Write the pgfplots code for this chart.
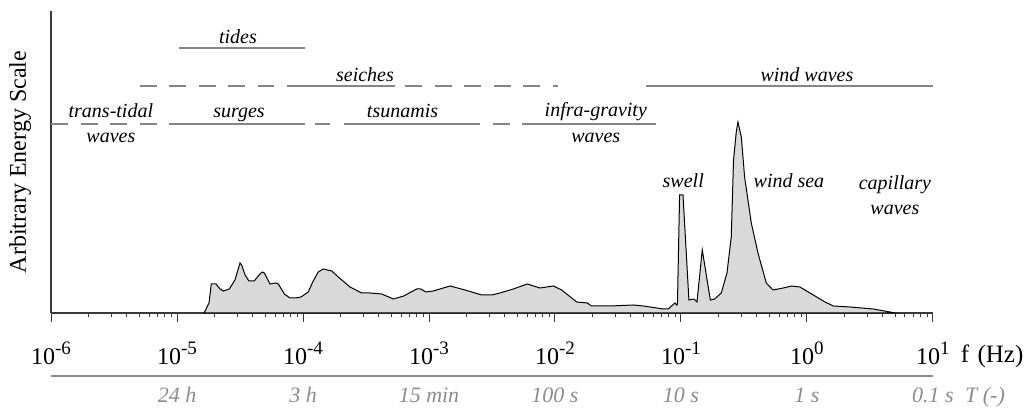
\documentclass[border=0pt]{standalone}
\usepackage{fontspec}
\setmainfont{Liberation Serif}
\usepackage{pgfplots}
\pgfplotsset{compat=1.18}
\definecolor{fillgray}{HTML}{D9D9D9}
\definecolor{catgray}{HTML}{858585}
\definecolor{pergray}{HTML}{8C8C8C}
\definecolor{axgray}{HTML}{3A3A3A}

\newcommand\dec[1]{10\raisebox{5pt}{\fontsize{9.5}{10}\selectfont #1}}

% spectrum: log10(f) and arbitrary energy
\pgfplotstableread{
lf     E
-4.785 0
-4.746 10
-4.728 29
-4.690 29
-4.659 24
-4.633 22
-4.585 24
-4.540 33
-4.500 50
-4.487 48
-4.460 38
-4.429 32
-4.387 32
-4.349 38
-4.323 41
-4.307 40
-4.262 29
-4.214 30
-4.196 29
-4.148 19
-4.103 15
-4.058 15
-4.016 16
-3.958 21
-3.923 31
-3.879 41
-3.839 44
-3.772 42
-3.720 36
-3.627 26
-3.534 20
-3.468 20
-3.375 19
-3.283 14
-3.200 17
-3.098 24
-3.066 24
-3.024 21
-2.966 22
-2.833 27
-2.714 23
-2.582 18
-2.502 18
-2.437 20
-2.331 24
-2.220 29
-2.119 25
-2.013 27
-1.947 23
-1.828 11
-1.744 10
-1.709 7
-1.563 7
-1.379 8
-1.299 7
-1.140 4
-1.101 4
-1.048 10
-1.034 8
-1.028 9
-1.011 118
-0.984 118
-0.937 13
-0.897 14
-0.873 11
-0.831 63
-0.767 13
-0.733 14
-0.680 20
-0.635 40
-0.601 76
-0.583 153
-0.561 181
-0.548 191
-0.521 176
-0.495 136
-0.442 90
-0.389 60
-0.323 30
-0.270 23
-0.188 25
-0.121 27
-0.056 26
0.050 18
0.143 11
0.209 7
0.341 6
0.526 4
0.659 1
0.698 0
}\spectrum

\begin{document}
\begin{tikzpicture}
\begin{axis}[
  scale only axis, width=441pt, height=151pt,
  xmin=-6, xmax=1, ymin=0, ymax=302,
  axis lines*=left,
  axis line style={line width=1pt, draw=axgray},
  ytick=\empty,
  xtick={-6,...,1},
  xticklabels={\dec{-6},\dec{-5},\dec{-4},\dec{-3},\dec{-2},\dec{-1},\dec{0},\dec{1}},
  minor xtick={-5.699,-5.523,-5.398,-5.301,-5.222,-5.155,-5.097,-5.046,
               -4.699,-4.523,-4.398,-4.301,-4.222,-4.155,-4.097,-4.046,
               -3.699,-3.523,-3.398,-3.301,-3.222,-3.155,-3.097,-3.046,
               -2.699,-2.523,-2.398,-2.301,-2.222,-2.155,-2.097,-2.046,
               -1.699,-1.523,-1.398,-1.301,-1.222,-1.155,-1.097,-1.046,
               -0.699,-0.523,-0.398,-0.301,-0.222,-0.155,-0.097,-0.046,
               0.301,0.477,0.602,0.699,0.778,0.845,0.903,0.954},
  tick align=outside,
  major tick length=4.5pt, minor tick length=2pt,
  tick style={line width=0.5pt, draw=axgray},
  xticklabel style={anchor=base, yshift=-21.5pt, font=\fontsize{12}{14}\selectfont},
  ylabel={Arbitrary Energy Scale},
  every axis y label/.style={at={(axis description cs:-0.0351,0.5)}, rotate=90, anchor=center, font=\fontsize{12}{14}\selectfont},
  clip=false,
]
% picture frame
\path (axis cs:-6.405,313) rectangle (axis cs:1.794,-95);

\addplot[fill=fillgray, draw=black, line width=0.5pt] table[x=lf, y=E] {\spectrum} \closedcycle;

% category ranges
\begin{scope}[catgray, line width=0.55pt]
\draw (axis cs:-4.984,265) -- (axis cs:-3.984,265);
\draw[dash pattern=on 8.5pt off 6.25pt] (axis cs:-5.294,227) -- (axis cs:-4.230,227);
\draw (axis cs:-4.127,227) -- (axis cs:-3.270,227);
\draw[dash pattern=on 8.5pt off 6.25pt] (axis cs:-3.190,227) -- (axis cs:-1.976,227);
\draw (axis cs:-1.278,227) -- (axis cs:1,227);
\draw[dash pattern=on 8.5pt off 6.25pt] (axis cs:-6,189) -- (axis cs:-5.159,189);
\draw (axis cs:-5.063,189) -- (axis cs:-3.984,189);
\draw (axis cs:-3.905,189) -- (axis cs:-3.786,189);
\draw (axis cs:-3.675,189) -- (axis cs:-2.595,189);
\draw (axis cs:-2.492,189) -- (axis cs:-2.357,189);
\draw (axis cs:-2.262,189) -- (axis cs:-1.198,189);
\end{scope}

\begin{scope}[every node/.style={anchor=base, inner sep=0pt, font=\fontsize{10}{12}\selectfont\itshape}]
\node at (axis cs:-4.516,270) {tides};
\node at (axis cs:-3.508,231) {seiches};
\node at (axis cs:0.0,231) {wind waves};
\node at (axis cs:-5.525,195) {trans-tidal};
\node at (axis cs:-5.525,170) {waves};
\node at (axis cs:-4.508,195) {surges};
\node at (axis cs:-3.210,195) {tsunamis};
\node at (axis cs:-1.676,196) {infra-gravity};
\node at (axis cs:-1.676,170) {waves};
\node at (axis cs:-0.982,125) {swell};
\node at (axis cs:-0.143,125) {wind sea};
\node at (axis cs:0.698,123) {capillary};
\node at (axis cs:0.698,98) {waves};
\end{scope}

% frequency unit and period scale
\node[anchor=base, inner sep=0pt, font=\fontsize{12.5}{14}\selectfont] at (axis cs:1.47,-50) {f\,\,(Hz)};
\draw[pergray, line width=0.7pt] (axis cs:-6,-63) -- (axis cs:1,-63);
\begin{scope}[every node/.style={anchor=base, inner sep=0pt, text=pergray, font=\fontsize{11}{13}\selectfont\itshape}]
\node at (axis cs:-5,-90) {24 h};
\node at (axis cs:-4,-90) {3 h};
\node at (axis cs:-3,-90) {15 min};
\node at (axis cs:-2,-90) {100 s};
\node at (axis cs:-1,-90) {10 s};
\node at (axis cs:0,-90) {1 s};
\node at (axis cs:1,-90) {0.1 s};
\node at (axis cs:1.413,-90) {T (-)};
\end{scope}
\end{axis}
\end{tikzpicture}
\end{document}
